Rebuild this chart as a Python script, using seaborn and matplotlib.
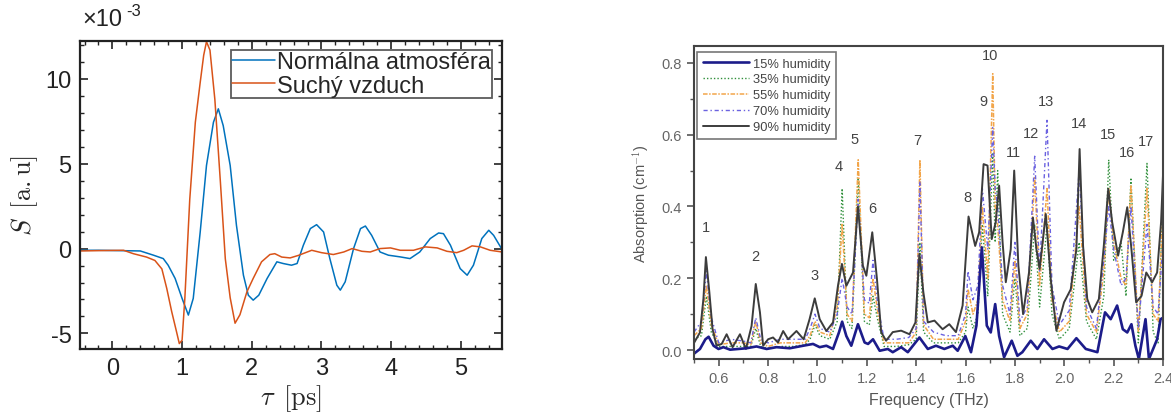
# THz signal in air vs. dry air, and water vapour absorption at different humidity

import pandas as pd
import matplotlib.pyplot as plt
import seaborn as sns
from matplotlib.ticker import MultipleLocator


# Left panel data (S in units of 1e-3)

tau_normal = [-0.46, -0.2, 0.1, 0.4, 0.59, 0.73, 0.80, 0.90, 1.00, 1.09, 1.16, 1.26,
              1.35, 1.45, 1.52, 1.59, 1.69, 1.78, 1.88, 1.95, 2.02, 2.10, 2.22,
              2.36, 2.45, 2.57, 2.65, 2.74, 2.84, 2.93, 3.03, 3.12, 3.22, 3.27,
              3.34, 3.46, 3.56, 3.63, 3.72, 3.84, 3.96, 4.13, 4.27, 4.41, 4.56,
              4.68, 4.75, 4.85, 4.99, 5.09, 5.18, 5.30, 5.40, 5.47, 5.59]
s_normal = [-0.1, -0.1, -0.12, -0.14, -0.39, -0.59, -0.98, -1.76, -2.94, -3.92, -2.94, 0.98,
            4.9, 7.45, 8.24, 7.25, 4.9, 1.37, -1.57, -2.75, -3.04, -2.75, -1.76,
            -0.78, -0.88, -0.98, -0.88, 0.2, 1.18, 1.41, 0.98, -0.59, -2.16, -2.45,
            -1.96, 0.0, 1.18, 1.33, 0.78, -0.2, -0.39, -0.49, -0.59, -0.2, 0.59,
            0.92, 0.88, 0.2, -1.18, -1.57, -0.98, 0.59, 1.08, 0.78, -0.05]

tau_dry = [-0.46, -0.2, 0.16, 0.30, 0.49, 0.61, 0.71, 0.78, 0.85, 0.92, 0.96, 1.00,
           1.04, 1.11, 1.19, 1.26, 1.31, 1.35, 1.40, 1.47, 1.55, 1.62, 1.69, 1.76,
           1.83, 1.93, 2.02, 2.14, 2.26, 2.33, 2.43, 2.55, 2.67, 2.86, 3.00, 3.17,
           3.32, 3.44, 3.58, 3.70, 3.84, 3.99, 4.13, 4.32, 4.49, 4.66, 4.80, 4.94,
           5.04, 5.16, 5.28, 5.42, 5.59]
s_dry = [-0.14, -0.12, -0.1, -0.3, -0.5, -0.7, -1.2, -2.35, -3.7, -4.9, -5.6, -5.4,
         -2.9, 2.9, 7.45, 9.8, 11.4, 12.2, 11.7, 8.8, 3.9, -0.6, -2.9, -4.4,
         -3.9, -2.55, -1.76, -0.78, -0.35, -0.3, -0.5, -0.55, -0.4, -0.1, -0.24, -0.35,
         -0.2, 0.0, -0.16, -0.2, 0.0, 0.04, -0.1, -0.1, 0.1, 0.04, -0.16, -0.24,
         -0.1, 0.16, 0.1, -0.1, -0.2]


# Right panel data (absorption, cm^-1)

f_90 = [0.50, 0.524, 0.538, 0.548, 0.562, 0.575, 0.591, 0.612, 0.632, 0.656, 0.686,
        0.710, 0.733, 0.750, 0.767, 0.780, 0.800, 0.820, 0.840, 0.861, 0.881, 0.915,
        0.944, 0.968, 0.989, 1.009, 1.036, 1.063, 1.083, 1.099, 1.117, 1.144, 1.164,
        1.184, 1.198, 1.222, 1.241, 1.258, 1.278, 1.305, 1.339, 1.373, 1.397, 1.413,
        1.429, 1.447, 1.474, 1.507, 1.534, 1.561, 1.588, 1.612, 1.639, 1.655, 1.673,
        1.689, 1.706, 1.722, 1.736, 1.750, 1.763, 1.783, 1.797, 1.814, 1.833, 1.857,
        1.873, 1.887, 1.900, 1.925, 1.945, 1.968, 1.999, 2.026, 2.049, 2.062, 2.076,
        2.093, 2.113, 2.140, 2.160, 2.178, 2.194, 2.218, 2.237, 2.255, 2.272, 2.291,
        2.313, 2.332, 2.356, 2.376, 2.392, 2.40]
a_90 = [0.02, 0.049, 0.143, 0.259, 0.161, 0.058, 0.012, 0.017, 0.044, 0.008, 0.044,
        0.003, 0.067, 0.184, 0.105, 0.012, 0.03, 0.035, 0.021, 0.053, 0.03, 0.053,
        0.03, 0.086, 0.144, 0.086, 0.053, 0.077, 0.179, 0.240, 0.179, 0.216, 0.40,
        0.235, 0.207, 0.328, 0.198, 0.05, 0.026, 0.05, 0.054, 0.044, 0.077, 0.268,
        0.161, 0.077, 0.082, 0.058, 0.072, 0.05, 0.124, 0.372, 0.29, 0.328, 0.518,
        0.514, 0.309, 0.356, 0.458, 0.30, 0.189, 0.281, 0.50, 0.235, 0.10, 0.216,
        0.369, 0.281, 0.226, 0.379, 0.198, 0.054, 0.133, 0.169, 0.281, 0.56, 0.29,
        0.142, 0.105, 0.142, 0.29, 0.449, 0.356, 0.263, 0.328, 0.398, 0.281, 0.133,
        0.151, 0.216, 0.189, 0.216, 0.356, 0.49]

f_15 = [0.50, 0.524, 0.546, 0.559, 0.579, 0.599, 0.619, 0.646, 0.713, 0.753, 0.794,
        0.834, 0.888, 0.942, 0.982, 1.009, 1.036, 1.063, 1.087, 1.100, 1.117, 1.137,
        1.164, 1.191, 1.205, 1.225, 1.252, 1.285, 1.305, 1.339, 1.366, 1.413, 1.447,
        1.480, 1.514, 1.548, 1.568, 1.599, 1.622, 1.644, 1.666, 1.686, 1.702, 1.720,
        1.736, 1.756, 1.787, 1.810, 1.830, 1.864, 1.891, 1.918, 1.952, 1.979, 2.013,
        2.049, 2.087, 2.134, 2.165, 2.188, 2.214, 2.237, 2.255, 2.272, 2.288, 2.302,
        2.329, 2.343, 2.376, 2.390, 2.40]
a_15 = [-0.01, 0.003, 0.03, 0.037, 0.012, 0.003, 0.008, 0.001, 0.005, 0.01, 0.003,
        0.008, 0.005, 0.012, 0.017, 0.008, 0.012, 0.003, 0.049, 0.079, 0.039, 0.012,
        0.072, 0.021, 0.017, 0.03, -0.002, 0.003, -0.006, 0.008, -0.006, 0.035, 0.003,
        0.012, 0.003, 0.012, -0.002, 0.039, -0.006, 0.068, 0.286, 0.068, 0.049, 0.128,
        0.039, -0.02, 0.026, -0.016, -0.006, 0.026, 0.003, 0.03, 0.003, 0.01, 0.003,
        0.033, 0.003, -0.006, 0.105, 0.086, 0.124, 0.058, 0.049, 0.072, 0.012, -0.025,
        0.086, -0.025, 0.03, 0.086, 0.09]

f_mid = [0.50, 0.53, 0.55, 0.57, 0.60, 0.65, 0.70, 0.73, 0.75, 0.77, 0.80, 0.85,
         0.90, 0.95, 0.97, 0.99, 1.01, 1.05, 1.08, 1.10, 1.12, 1.14, 1.165, 1.19,
         1.21, 1.225, 1.245, 1.27, 1.32, 1.37, 1.40, 1.415, 1.43, 1.47, 1.52, 1.57,
         1.60, 1.61, 1.63, 1.65, 1.668, 1.69, 1.71, 1.72, 1.73, 1.75, 1.78, 1.80,
         1.82, 1.85, 1.88, 1.90, 1.93, 1.95, 1.98, 2.02, 2.06, 2.09, 2.13, 2.16,
         2.18, 2.20, 2.23, 2.25, 2.27, 2.30, 2.335, 2.36, 2.38, 2.40]
a_35 = [0.03, 0.04, 0.15, 0.05, 0.01, 0.01, 0.01, 0.01, 0.06, 0.01, 0.005, 0.01,
        0.01, 0.015, 0.03, 0.07, 0.04, 0.03, 0.08, 0.45, 0.08, 0.06, 0.48, 0.08,
        0.07, 0.15, 0.08, 0.01, 0.01, 0.015, 0.03, 0.30, 0.05, 0.02, 0.02, 0.02,
        0.05, 0.12, 0.06, 0.10, 0.35, 0.15, 0.55, 0.30, 0.50, 0.10, 0.05, 0.20,
        0.04, 0.06, 0.35, 0.12, 0.35, 0.10, 0.03, 0.06, 0.30, 0.08, 0.03, 0.15,
        0.53, 0.25, 0.30, 0.15, 0.48, 0.02, 0.52, 0.05, 0.02, 0.46]
a_55 = [0.04, 0.06, 0.18, 0.07, 0.015, 0.02, 0.02, 0.015, 0.08, 0.02, 0.01, 0.02,
        0.02, 0.02, 0.04, 0.08, 0.05, 0.04, 0.12, 0.35, 0.10, 0.08, 0.53, 0.10,
        0.09, 0.20, 0.10, 0.02, 0.02, 0.02, 0.05, 0.53, 0.07, 0.03, 0.03, 0.03,
        0.08, 0.17, 0.10, 0.14, 0.40, 0.20, 0.77, 0.40, 0.35, 0.14, 0.08, 0.25,
        0.06, 0.10, 0.48, 0.18, 0.45, 0.14, 0.05, 0.08, 0.40, 0.10, 0.05, 0.22,
        0.45, 0.30, 0.20, 0.18, 0.46, 0.05, 0.45, 0.10, 0.08, 0.40]
a_70 = [0.05, 0.08, 0.22, 0.09, 0.02, 0.03, 0.025, 0.02, 0.09, 0.03, 0.02, 0.03,
        0.03, 0.03, 0.06, 0.10, 0.06, 0.05, 0.10, 0.20, 0.12, 0.10, 0.42, 0.14,
        0.13, 0.25, 0.12, 0.03, 0.03, 0.035, 0.06, 0.47, 0.08, 0.05, 0.04, 0.04,
        0.10, 0.22, 0.14, 0.18, 0.45, 0.28, 0.62, 0.45, 0.40, 0.18, 0.10, 0.30,
        0.08, 0.12, 0.54, 0.22, 0.64, 0.18, 0.07, 0.11, 0.50, 0.12, 0.06, 0.25,
        0.40, 0.28, 0.18, 0.20, 0.40, 0.06, 0.35, 0.12, 0.10, 0.30]

peak_num = [str(i) for i in range(1, 18)]
peak_x = [0.549, 0.750, 0.989, 1.087, 1.152, 1.224, 1.403, 1.608, 1.672, 1.700,
          1.793, 1.867, 1.925, 2.060, 2.178, 2.255, 2.329]
peak_y = [0.343, 0.263, 0.209, 0.514, 0.588, 0.396, 0.585, 0.426, 0.695, 0.822,
          0.553, 0.604, 0.693, 0.632, 0.602, 0.551, 0.583]


# Figure

sns.set_theme(style="white")
plt.rcParams['font.family'] = ['Liberation Sans', 'DejaVu Sans']
plt.rcParams['mathtext.fontset'] = 'cm'

fig = plt.figure(figsize=(11.71, 4.14), dpi=100)
ax1 = fig.add_axes([0.0683, 0.1546, 0.3604, 0.744])
ax2 = fig.add_axes([0.5927, 0.1304, 0.4005, 0.756])


# Left panel

sns.lineplot(x=tau_normal, y=s_normal, ax=ax1, color="#0072BD", lw=1.1,
             label="Normálna atmosféra")
sns.lineplot(x=tau_dry, y=s_dry, ax=ax1, color="#D95319", lw=1.1,
             label="Suchý vzduch")

ax1.set_xlim(-0.465, 5.59)
ax1.set_ylim(-5.92, 12.24)
ax1.set_xticks([0, 1, 2, 3, 4, 5])
ax1.set_yticks([-5, 0, 5, 10])
ax1.set_yticklabels(["-5", "0", "5", "10"])
ax1.xaxis.set_minor_locator(MultipleLocator(0.2))
ax1.yaxis.set_minor_locator(MultipleLocator(1))
ax1.tick_params(which="both", direction="in", top=True, right=True,
                bottom=True, left=True, colors="#222222", labelsize=17,
                labelcolor="#222222")
ax1.tick_params(which="major", length=6, width=1.2, pad=6)
ax1.tick_params(which="minor", length=3, width=1.0)
for sp in ax1.spines.values():
    sp.set_color("#222222")
    sp.set_linewidth(1.6)

ax1.set_xlabel(r"$\tau\ \,[\mathrm{ps}]$", fontsize=19, labelpad=2)
ax1.set_ylabel(r"$S\ \,[\mathrm{a.u}]$", fontsize=19, labelpad=4)
fig.text(0.0705, 0.925, "×10", fontsize=17, color="#222222",
         ha="left", va="bottom")
fig.text(0.1075, 0.955, "-3", fontsize=12, color="#222222",
         ha="left", va="bottom")

leg1 = ax1.legend(loc="upper right", bbox_to_anchor=(0.977, 0.97), fontsize=17,
                  frameon=True, fancybox=False, edgecolor="#333333",
                  handlelength=1.8, handletextpad=0.1, labelspacing=0.05,
                  borderpad=0.05, borderaxespad=0)
leg1.get_frame().set_linewidth(1.3)


# Right panel

sns.lineplot(x=f_mid, y=a_35, ax=ax2, color="#2f8f3a", lw=1.0,
             linestyle=(0, (1, 1.5)), label="35% humidity")
sns.lineplot(x=f_mid, y=a_55, ax=ax2, color="#f2a54a", lw=1.1,
             linestyle=(0, (3, 1, 1, 1)), label="55% humidity")
sns.lineplot(x=f_mid, y=a_70, ax=ax2, color="#6b62e0", lw=1.0,
             linestyle=(0, (3, 2, 1, 2)), label="70% humidity")
sns.lineplot(x=f_90, y=a_90, ax=ax2, color="#3c3c3c", lw=1.4,
             label="90% humidity")
sns.lineplot(x=f_15, y=a_15, ax=ax2, color="#1c1c8a", lw=1.9,
             label="15% humidity")

for n, px, py in zip(peak_num, peak_x, peak_y):
    ax2.text(px, py, n, fontsize=10.5, color="#444444", ha="center", va="center")

ax2.set_xlim(0.5, 2.4)
ax2.set_ylim(-0.025, 0.847)
ax2.set_xticks([0.6, 0.8, 1.0, 1.2, 1.4, 1.6, 1.8, 2.0, 2.2, 2.4])
ax2.set_xticklabels(["0.6", "0.8", "1.0", "1.2", "1.4", "1.6", "1.8", "2.0", "2.2", "2.4"])
ax2.set_yticks([0.0, 0.2, 0.4, 0.6, 0.8])
ax2.set_yticklabels(["0.0", "0.2", "0.4", "0.6", "0.8"])
ax2.xaxis.set_minor_locator(MultipleLocator(0.1))
ax2.yaxis.set_minor_locator(MultipleLocator(0.1))
ax2.tick_params(which="both", direction="out", bottom=True, left=True,
                top=False, right=False, colors="#555555", labelsize=10.5,
                labelcolor="#666666")
ax2.tick_params(which="major", length=5, width=1.2)
ax2.tick_params(which="minor", length=3, width=1.0)
for sp in ax2.spines.values():
    sp.set_color("#444444")
    sp.set_linewidth(1.5)

ax2.set_xlabel("Frequency (THz)", fontsize=11.5, color="#555555", labelpad=5)
ax2.set_ylabel("Absorption (cm$^{\\mathsf{-1}}$)", fontsize=10.5, color="#555555",
               labelpad=8)

handles, labels = ax2.get_legend_handles_labels()
order = [4, 0, 1, 2, 3]
leg2 = ax2.legend([handles[i] for i in order], [labels[i] for i in order],
                  loc="upper left", bbox_to_anchor=(0.006, 0.982), fontsize=9.3,
                  frameon=True, fancybox=False, edgecolor="#555555",
                  handlelength=3.6, handletextpad=0.3, labelspacing=0.3,
                  borderpad=0.45, borderaxespad=0, labelcolor="#444444")
leg2.get_frame().set_linewidth(1.2)

plt.savefig("out.png", dpi=100)
